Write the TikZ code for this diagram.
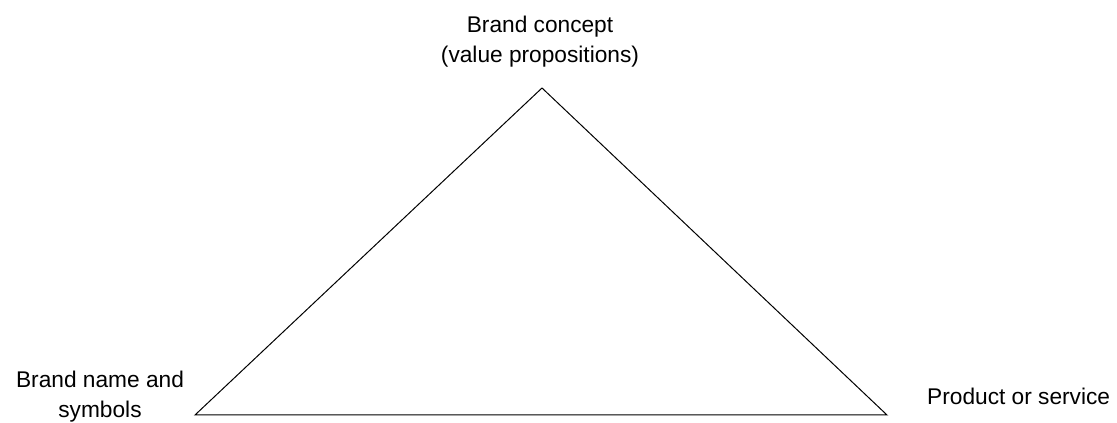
\documentclass[tikz,border=0pt]{standalone}
\usepackage{fontspec}
\setmainfont{Liberation Sans}
\begin{document}
\begin{tikzpicture}[x=1pt, y=1pt,
    corner/.style={font=\fontsize{22.7}{30}\selectfont, align=center, inner sep=0pt}]
  \useasboundingbox (0,0) rectangle (1117,423);
  % corners of the triangle
  \coordinate (top) at (542,335);
  \coordinate (left) at (195,8);
  \coordinate (right) at (887,8);
  \draw[line width=1pt, line join=miter] (left) -- (top) -- (right) -- cycle;
  % labels
  \node[corner, anchor=base] (concept) at (540,360) {Brand concept\\(value propositions)};
  \node[corner, anchor=base] (name) at (100,5) {Brand name and\\symbols};
  \node[corner, anchor=base west] (product) at (927,18) {Product or service};
\end{tikzpicture}
\end{document}
